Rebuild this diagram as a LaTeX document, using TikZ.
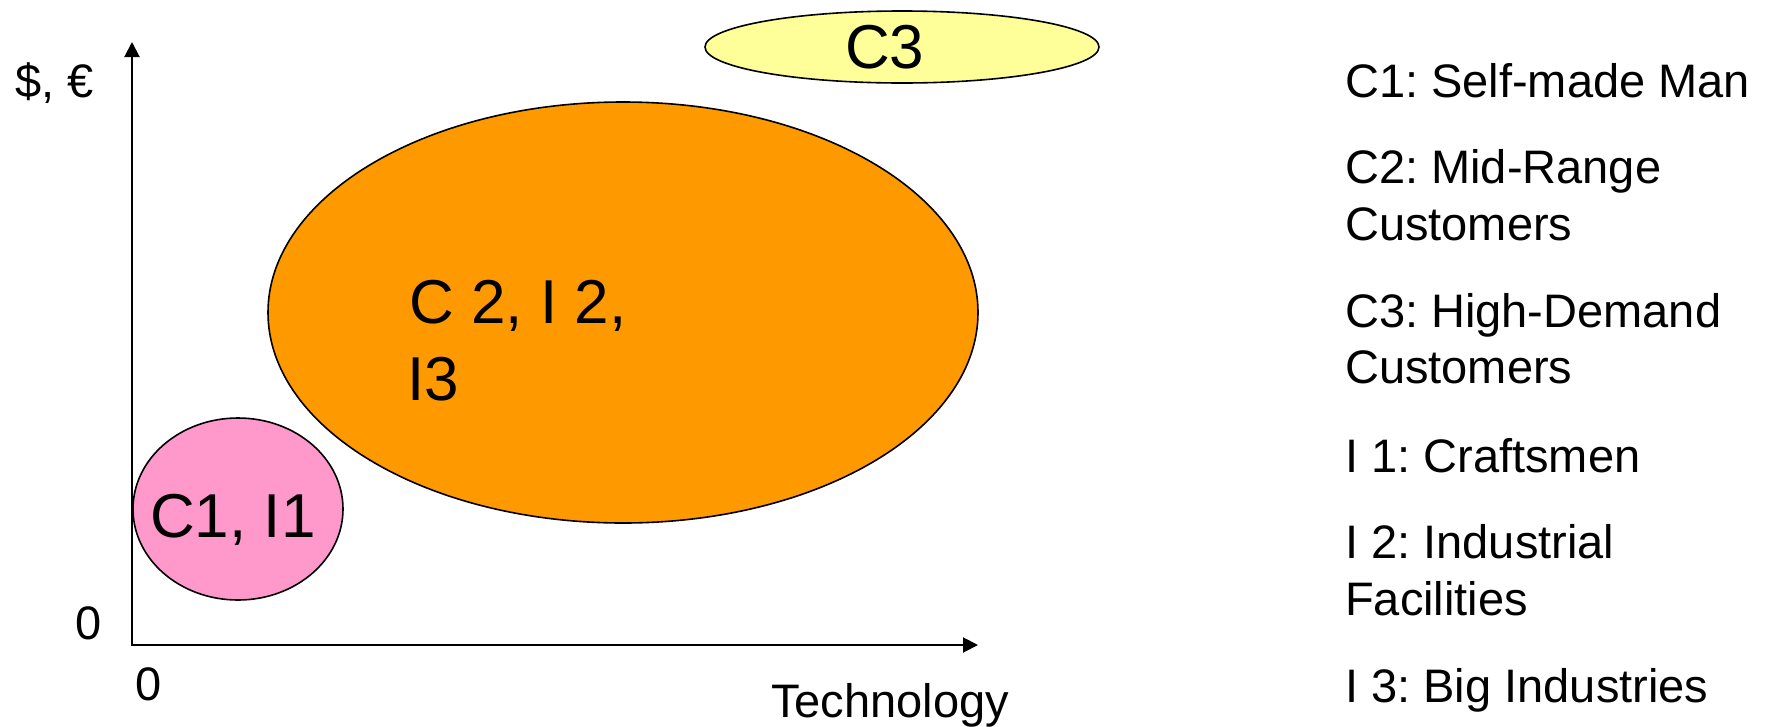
\documentclass[tikz,border=0pt]{standalone}
\usepackage{fontspec}
\setmainfont{Liberation Sans}
\usetikzlibrary{shapes.geometric,arrows.meta}
\definecolor{cyellow}{HTML}{FFFF99}
\definecolor{cpink}{HTML}{FF99CC}
\definecolor{corange}{HTML}{FF9900}
\frenchspacing
\begin{document}
\begin{tikzpicture}[x=1pt,y=-1pt,
  blob/.style={ellipse,draw=black,line width=1.6pt,inner sep=0pt},
  bigtxt/.style={anchor=base west,inner sep=0pt,font=\fontsize{62}{74}\selectfont},
  txt/.style={anchor=base west,inner sep=0pt,font=\fontsize{47}{57}\selectfont},
  axis/.style={line width=2pt,{Triangle[length=15pt,width=15pt]}-{Triangle[length=15pt,width=15pt]}}]
\useasboundingbox (0,0) rectangle (1775,726);
% ellipses
\node[blob,fill=corange,minimum width=710pt,minimum height=421pt] (c2) at (623,312.5) {};
\node[blob,fill=cpink,minimum width=210pt,minimum height=182pt] (c1) at (238,509) {};
\node[blob,fill=cyellow,minimum width=394pt,minimum height=72pt] (c3) at (902,47) {};
% axes
\coordinate (O) at (132,645);
\coordinate (ytop) at (132,42);
\coordinate (xright) at (978,645);
\draw[axis] (ytop) -- (O) -- (xright);
% ellipse texts
\node[bigtxt] (t3) at (845,68) {C3};
\node[bigtxt] (t1) at (150,537) {C1, I1};
\node[bigtxt] (t2a) at (409,323) {C 2, I 2,};
\node[bigtxt] (t2b) at (407,400) {I3};
% axis labels
\node[txt] (ylab) at (15,97) {\$, €};
\node[txt] (y0) at (75,639) {0};
\node[txt] (x0) at (135,700) {0};
\node[txt] (xlab) at (771,717) {Technology};
% legend
\node[txt] (l1) at (1345,97) {C1: Self-made Man};
\node[txt] (l2a) at (1345,183) {C2: Mid-Range};
\node[txt] (l2b) at (1345,240) {Customers};
\node[txt] (l3a) at (1345,327) {C3: High-Demand};
\node[txt] (l3b) at (1345,383) {Customers};
\node[txt] (l4) at (1345,472) {I 1: Craftsmen};
\node[txt] (l5a) at (1345,558) {I 2: Industrial};
\node[txt] (l5b) at (1345,615) {Facilities};
\node[txt] (l6) at (1345,702) {I 3: Big Industries};
\end{tikzpicture}
\end{document}
